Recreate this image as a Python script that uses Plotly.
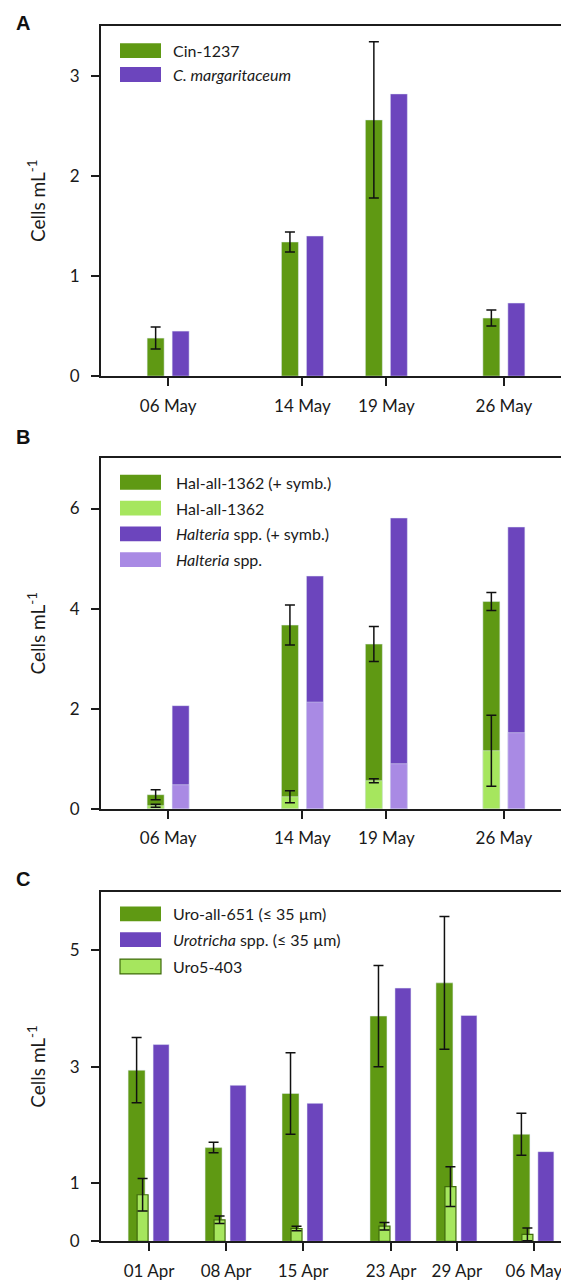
import plotly.graph_objects as go
import pandas as pd

W, H = 569, 1283
DAY = 86400000  # ms

# ---------------- data ----------------
# Panel A
dates_a = ["2021-05-06", "2021-05-14", "2021-05-19", "2021-05-26"]
cin1237 = [0.38, 1.34, 2.56, 0.58]
cin1237_err = [0.11, 0.10, 0.78, 0.08]
c_margaritaceum = [0.45, 1.40, 2.82, 0.73]

# Panel B
dates_b = ["2021-05-06", "2021-05-14", "2021-05-19", "2021-05-26"]
hal_symb = [0.28, 3.67, 3.29, 4.14]
hal_symb_err = [0.10, 0.40, 0.35, 0.18]
hal = [0.06, 0.24, 0.56, 1.16]
hal_err = [0.03, 0.12, 0.04, 0.71]
halteria_symb = [2.06, 4.65, 5.81, 5.63]
halteria = [0.48, 2.13, 0.90, 1.52]

# Panel C
dates_c = ["2021-04-01", "2021-04-08", "2021-04-15", "2021-04-23", "2021-04-29", "2021-05-06"]
uro_all = [2.94, 1.61, 2.54, 3.87, 4.44, 1.84]
uro_all_err = [0.56, 0.09, 0.70, 0.87, 1.14, 0.36]
urotricha = [3.38, 2.68, 2.37, 4.35, 3.88, 1.54]
uro5 = [0.80, 0.37, 0.22, 0.26, 0.94, 0.12]
uro5_err = [0.28, 0.065, 0.04, 0.065, 0.34, 0.11]

# ---------------- style ----------------
GREEN = "#5f9913"
LGREEN = "#a6e65e"
PURPLE = "#6c45bd"
LPURPLE = "#a98ae4"
FRAME = "#1c1c1c"
FONT = "Lato"

fig = go.Figure()

def px_x(p):
    return p / W

def px_y(p):
    return 1 - p / H

# plot areas in pixels: (top, bottom)
X0, X1 = 93, 563
AREAS = {"A": (18, 371), "B": (454, 807), "C": (891, 1243)}

def err(vals, color="#111111"):
    return dict(type="data", array=vals, visible=True, color=color, thickness=1.5, width=5)

# Panel A traces (axis x/y)
pxday_a = 470 / 28.0
fig.add_bar(x=pd.to_datetime(dates_a), y=cin1237, name="Cin-1237", marker_color=GREEN,
            offset=-21 / pxday_a * DAY, width=17 / pxday_a * DAY, error_y=err(cin1237_err),
            xaxis="x", yaxis="y", showlegend=False)
fig.add_bar(x=pd.to_datetime(dates_a), y=c_margaritaceum, name="C. margaritaceum", marker_color=PURPLE,
            offset=4 / pxday_a * DAY, width=17 / pxday_a * DAY,
            xaxis="x", yaxis="y", showlegend=False)

# Panel B traces
fig.add_bar(x=pd.to_datetime(dates_b), y=hal_symb, name="Hal-all-1362 (+ symb.)", marker_color=GREEN,
            offset=-21 / pxday_a * DAY, width=17 / pxday_a * DAY, error_y=err(hal_symb_err),
            xaxis="x2", yaxis="y2", showlegend=False)
fig.add_bar(x=pd.to_datetime(dates_b), y=hal, name="Hal-all-1362", marker_color=LGREEN,
            offset=-21 / pxday_a * DAY, width=17 / pxday_a * DAY, error_y=err(hal_err),
            xaxis="x2", yaxis="y2", showlegend=False)
fig.add_bar(x=pd.to_datetime(dates_b), y=halteria_symb, name="Halteria spp. (+ symb.)", marker_color=PURPLE,
            offset=4 / pxday_a * DAY, width=17 / pxday_a * DAY,
            xaxis="x2", yaxis="y2", showlegend=False)
fig.add_bar(x=pd.to_datetime(dates_b), y=halteria, name="Halteria spp.", marker_color=LPURPLE,
            offset=4 / pxday_a * DAY, width=17 / pxday_a * DAY,
            xaxis="x2", yaxis="y2", showlegend=False)

# Panel C traces
pxday_c = 11.0
fig.add_bar(x=pd.to_datetime(dates_c), y=uro_all, name="Uro-all-651 (≤ 35 µm)", marker_color=GREEN,
            offset=-21 / pxday_c * DAY, width=17 / pxday_c * DAY, error_y=err(uro_all_err),
            xaxis="x3", yaxis="y3", showlegend=False)
fig.add_bar(x=pd.to_datetime(dates_c), y=urotricha, name="Urotricha spp. (≤ 35 µm)", marker_color=PURPLE,
            offset=4 / pxday_c * DAY, width=16 / pxday_c * DAY,
            xaxis="x3", yaxis="y3", showlegend=False)
fig.add_bar(x=pd.to_datetime(dates_c), y=uro5, name="Uro5-403", marker_color=LGREEN,
            marker_line=dict(color="#3f6a0c", width=1.2),
            offset=-12 / pxday_c * DAY, width=11 / pxday_c * DAY, error_y=err(uro5_err),
            xaxis="x3", yaxis="y3", showlegend=False)

axis_common = dict(showline=True, linecolor=FRAME, linewidth=2, mirror=True, ticks="outside",
                   ticklen=8, tickwidth=2, tickcolor=FRAME, showgrid=False, zeroline=False,
                   tickfont=dict(family=FONT, size=17, color="#1a1a1a"))

def xdom():
    return [px_x(X0), px_x(X1)]

def ydom(key):
    t, b = AREAS[key]
    return [px_y(b), px_y(t)]

fig.update_layout(
    width=W, height=H, margin=dict(l=0, r=0, t=0, b=0),
    plot_bgcolor="white", paper_bgcolor="white", barmode="overlay",
    xaxis=dict(domain=xdom(), anchor="y", type="date", range=["2021-05-02", "2021-05-30"],
               tickvals=dates_a, tickformat="%d %b", ticklabelstandoff=5, **axis_common),
    yaxis=dict(domain=ydom("A"), anchor="x", range=[0, 3.5], tickvals=[0, 1, 2, 3],
               ticklabelstandoff=8, **axis_common),
    xaxis2=dict(domain=xdom(), anchor="y2", type="date", range=["2021-05-02", "2021-05-30"],
                tickvals=dates_b, tickformat="%d %b", ticklabelstandoff=5, **axis_common),
    yaxis2=dict(domain=ydom("B"), anchor="x2", range=[0, 7], tickvals=[0, 2, 4, 6],
                ticklabelstandoff=8, **axis_common),
    xaxis3=dict(domain=xdom(), anchor="y3", type="date",
                range=["2021-03-27 15:00", "2021-05-09 09:00"],
                tickvals=dates_c, tickformat="%d %b", ticklabelstandoff=5, **axis_common),
    yaxis3=dict(domain=ydom("C"), anchor="x3", range=[0, 6], tickvals=[0, 1, 3, 5],
                ticklabelstandoff=8, **axis_common),
)

shapes = []
annotations = []

# Panel letters and y titles
for key, letter_y in (("A", 15), ("B", 432), ("C", 878)):
    annotations.append(dict(text=f"<b>{key}</b>", x=px_x(6), y=px_y(letter_y), xref="paper", yref="paper",
                            xanchor="left", yanchor="middle", showarrow=False,
                            font=dict(family="Liberation Sans", size=20, color="#111")))
    t, b = AREAS[key]
    annotations.append(dict(text="Cells mL<sup>-1</sup>", x=px_x(29), y=px_y((t + b) / 2), xref="paper",
                            yref="paper", xanchor="center", yanchor="middle", textangle=-90,
                            showarrow=False, font=dict(family=FONT, size=19, color="#1a1a1a")))

# Custom legends (swatch + text)
legends = [
    (163, [(43, GREEN, None, "Cin-1237"),
           (67, PURPLE, None, "<i>C. margaritaceum</i>")]),
    (166, [(478, GREEN, None, "Hal-all-1362 (+ symb.)"),
           (504, LGREEN, None, "Hal-all-1362"),
           (530, PURPLE, None, "<i>Halteria</i> spp. (+ symb.)"),
           (556, LPURPLE, None, "<i>Halteria</i> spp.")]),
    (163, [(913, GREEN, None, "Uro-all-651 (≤ 35 µm)"),
           (939, PURPLE, None, "<i>Urotricha</i> spp. (≤ 35 µm)"),
           (966, LGREEN, "#3f6a0c", "Uro5-403")]),
]
for tx, rows in legends:
    for cy, col, lcol, label in rows:
        shapes.append(dict(type="rect", xref="paper", yref="paper",
                           x0=px_x(112), x1=px_x(153), y0=px_y(cy + 7.5), y1=px_y(cy - 7.5),
                           fillcolor=col, line=dict(color=lcol or col, width=1.2 if lcol else 0)))
        annotations.append(dict(text=label, x=px_x(tx), y=px_y(cy), xref="paper", yref="paper",
                                xanchor="left", yanchor="middle", showarrow=False,
                                font=dict(family=FONT, size=16, color="#1a1a1a")))

fig.update_layout(shapes=shapes, annotations=annotations)
fig.write_html("out.html")
